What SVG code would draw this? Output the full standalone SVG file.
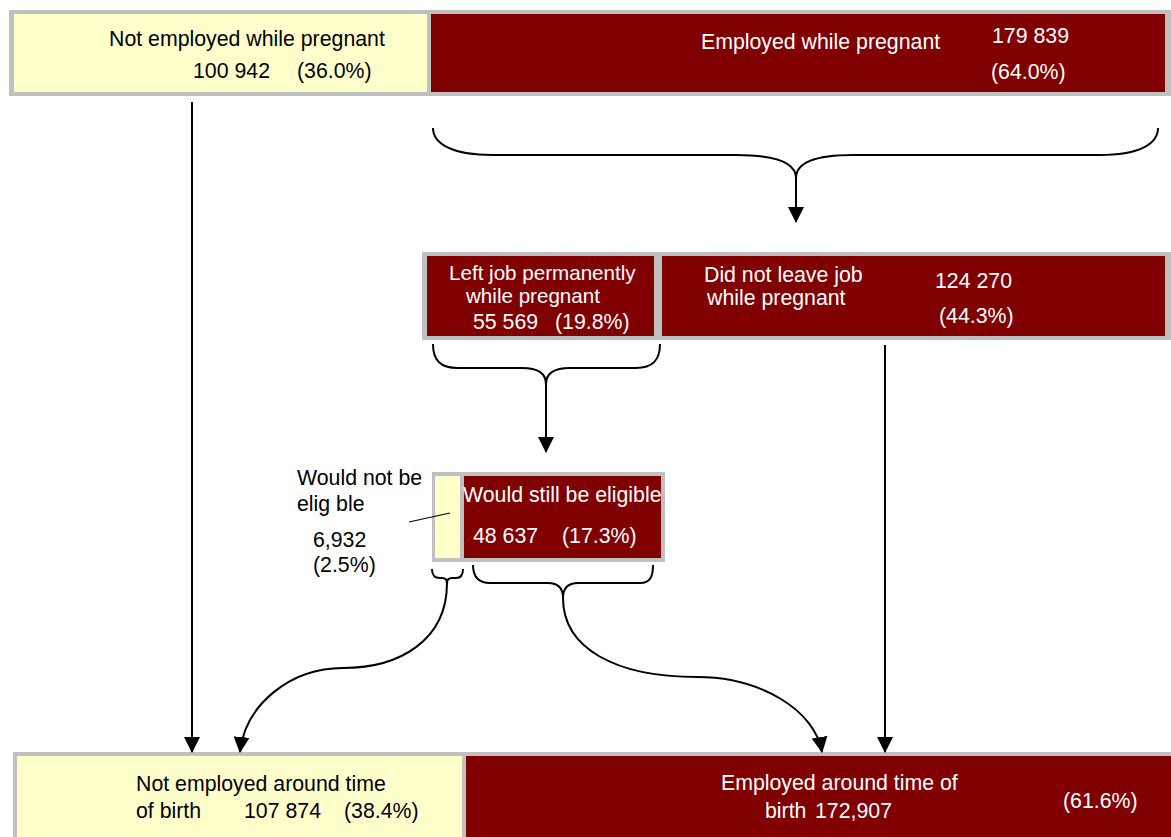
<svg xmlns="http://www.w3.org/2000/svg" width="1171" height="837" viewBox="0 0 1171 837">
<style>
text{font-family:"Liberation Sans",Arial,sans-serif;font-size:21.3px}
.dk{fill:#000}
.wt{fill:#fff}
.gray{fill:#c0c0c0}
.yel{fill:#ffffcc}
.red{fill:#800000}
.ln{fill:none;stroke:#000;stroke-width:2}
.tight{font-size:20.6px}
</style>
<defs>
<marker id="ah" markerUnits="userSpaceOnUse" markerWidth="16" markerHeight="16" viewBox="0 0 16 16" refX="15" refY="8" orient="auto">
<path d="M0,0 L16,8 L0,16 Z" fill="#000"/>
</marker>
</defs>
<rect width="1171" height="837" fill="#fff"/>

<g id="top-frame"><rect class="gray" x="9" y="10" width="1162" height="86"/></g>
<g id="not-employed-pregnant">
<rect class="yel" x="14" y="14" width="413" height="78"/>
<text class="dk" x="109" y="46">Not employed while pregnant</text>
<text class="dk" x="193" y="78">100 942</text>
<text class="dk" x="297" y="78">(36.0%)</text>
</g>
<g id="employed-pregnant">
<rect class="red" x="431" y="14" width="734" height="78"/>
<text class="wt" x="701" y="49">Employed while pregnant</text>
<text class="wt" x="992" y="43">179 839</text>
<text class="wt" x="991" y="79">(64.0%)</text>
</g>

<g id="mid-frame"><rect class="gray" x="422" y="252" width="749" height="88"/></g>
<g id="left-job">
<rect class="red" x="427" y="256" width="227" height="80"/>
<text class="wt tight" x="449" y="280">Left job permanently</text>
<text class="wt tight" x="466" y="303">while pregnant</text>
<text class="wt" x="473" y="329">55 569</text>
<text class="wt" x="555" y="329">(19.8%)</text>
</g>
<g id="did-not-leave">
<rect class="red" x="662" y="256" width="503" height="80"/>
<text class="wt" x="704" y="282">Did not leave job</text>
<text class="wt" x="707" y="305">while pregnant</text>
<text class="wt" x="935" y="288">124 270</text>
<text class="wt" x="939" y="323">(44.3%)</text>
</g>

<g id="elig-frame"><rect class="gray" x="432" y="472" width="233" height="90"/></g>
<g id="not-eligible">
<rect class="yel" x="435" y="476" width="25" height="82"/>
<text class="dk" x="297" y="485">Would not be</text>
<text class="dk" x="297" y="511">elig ble</text>
<text class="dk" x="313" y="547">6,932</text>
<text class="dk" x="313" y="572">(2.5%)</text>
<line x1="409" y1="522" x2="450" y2="513" stroke="#000" stroke-width="1.2"/>
</g>
<g id="still-eligible">
<rect class="red" x="464" y="476" width="197" height="82"/>
<text class="wt" x="463" y="502">Would still be eligible</text>
<text class="wt" x="473" y="543">48 637</text>
<text class="wt" x="562" y="543">(17.3%)</text>
</g>

<g id="bottom-frame"><rect class="gray" x="13" y="752" width="1158" height="85"/></g>
<g id="not-employed-birth">
<rect class="yel" x="17" y="756" width="445" height="81"/>
<text class="dk" x="136" y="791">Not employed around time</text>
<text class="dk" x="136" y="818">of birth</text>
<text class="dk" x="244" y="818">107 874</text>
<text class="dk" x="344" y="818">(38.4%)</text>
</g>
<g id="employed-birth">
<rect class="red" x="466" y="756" width="705" height="81"/>
<text class="wt" x="721" y="790">Employed around time of</text>
<text class="wt" x="765" y="818">birth</text>
<text class="wt" x="815" y="818">172,907</text>
<text class="wt" x="1063" y="808">(61.6%)</text>
</g>

<g id="connectors">
<path class="ln" d="M433,128 C433,145 455,155 492,155 L736,155 C775,155 796,162 796,178 C796,162 817,155 853,155 L1100,155 C1137,155 1158,145 1158,128"/>
<path class="ln" d="M796,178 L796,222" marker-end="url(#ah)"/>
<path class="ln" d="M433,344 C433,360 440,368 458,368 L522,368 C538,368 546,374 546,384 C546,374 554,368 570,368 L636,368 C653,368 660,360 660,344"/>
<path class="ln" d="M546,384 L546,452" marker-end="url(#ah)"/>
<path class="ln" d="M432,569 C432,575 434,578 440,578 L442,578 C446,578 447,580 447,583 C447,580 448,578 452,578 L456,578 C461,578 463,575 463,569"/>
<path class="ln" d="M447,583 C447,640 400,668 343,668 C290,668 245,705 240,752" marker-end="url(#ah)"/>
<path class="ln" d="M473,565 C473,577 478,583 490,583 L548,583 C558,583 563,588 563,598 C563,588 568,583 578,583 L640,583 C650,583 653,577 653,565"/>
<path class="ln" d="M563,598 C563,648 615,677 697,677 C760,677 815,710 822,752" marker-end="url(#ah)"/>
<path class="ln" d="M192,102 L192,752" marker-end="url(#ah)"/>
<path class="ln" d="M885,345 L885,752" marker-end="url(#ah)"/>
</g>
</svg>
